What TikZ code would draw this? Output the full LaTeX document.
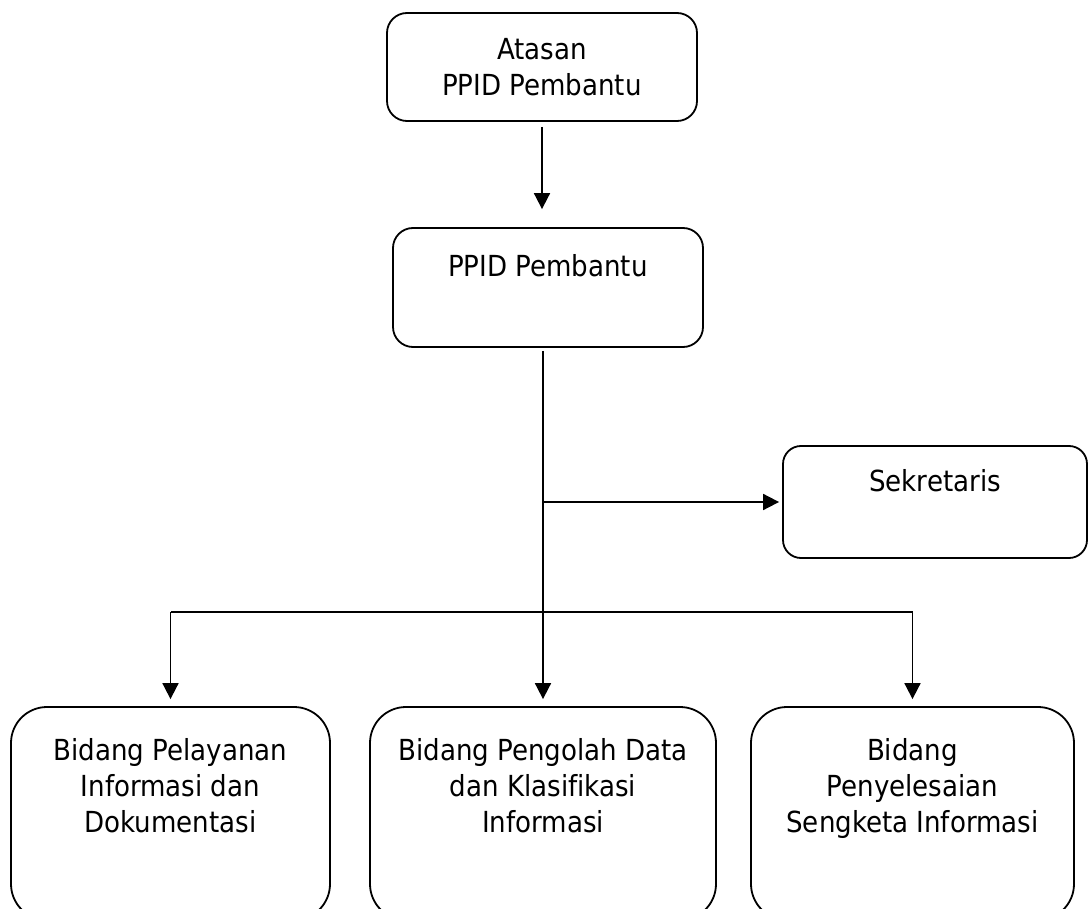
\documentclass[tikz,border=0pt]{standalone}
\usepackage{fontspec}
\setmainfont{DejaVu Sans Condensed}[Ligatures=NoCommon]
\usetikzlibrary{positioning,arrows.meta}

\begin{document}
\begin{tikzpicture}[
  x=1pt, y=-1pt,
  box/.style={draw, rounded corners=20pt, line width=1.8pt, inner sep=0pt},
  bidang/.style={box, rounded corners=36pt, minimum width=#1, minimum height=213pt},
  txt/.style={font=\fontsize{29}{36}\selectfont, align=center, inner sep=0pt},
  arrow/.style={-{Triangle[length=16pt, width=16pt]}, line width=1.8pt},
  link/.style={line width=1.8pt},
]
\useasboundingbox (0,0) rectangle (1088,909);
\clip (0,0) rectangle (1088,909);

% ====== Atasan dan PPID Pembantu ======
\node[box, txt, minimum width=310pt, minimum height=108pt] (atasan) at (542,67) {Atasan\\PPID Pembantu};
\node[box, minimum width=310pt, minimum height=119pt] (ppid) at (548,287.5) {};
\node[txt, below=27pt of ppid.north] (ppid-txt) {PPID Pembantu};

% ====== Sekretaris ======
\node[box, rounded corners=18pt, minimum width=304pt, minimum height=112pt] (sekretaris) at (935,502) {};
\node[txt, below=24pt of sekretaris.north] (sekretaris-txt) {Sekretaris};

% ====== Tiga bidang ======
\node[bidang=319pt] (pelayanan) at (170.5,813.5) {};
\node[bidang=346pt] (pengolah) at (543,813.5) {};
\node[bidang=323pt] (sengketa) at (912.5,813.5) {};
\node[txt, below=32pt of pelayanan.north] (pelayanan-txt) {Bidang Pelayanan\\Informasi dan\\Dokumentasi};
\node[txt, below=32pt of pengolah.north] (pengolah-txt) {Bidang Pengolah Data\\dan Klasifikasi\\Informasi};
\node[txt, below=32pt of sengketa.north] (sengketa-txt) {Bidang\\Penyelesaian\\Sengketa Informasi};

% ====== Garis penghubung ======
\coordinate (bus) at (0,612);
\draw[arrow, shorten <=5pt, shorten >=18pt] (atasan.south) -- (atasan.south |- ppid.north);
\draw[arrow, shorten <=3pt, shorten >=7pt] (pengolah.north |- ppid.south) -- (pengolah.north);
\draw[arrow, shorten >=3pt] (pengolah.north |- sekretaris.west) -- (sekretaris.west);
\draw[link] (pelayanan.north |- bus) -- (sengketa.north |- bus);
\draw[arrow, shorten >=7pt] (pelayanan.north |- bus) -- (pelayanan.north);
\draw[arrow, shorten >=7pt] (sengketa.north |- bus) -- (sengketa.north);

\end{tikzpicture}
\end{document}
